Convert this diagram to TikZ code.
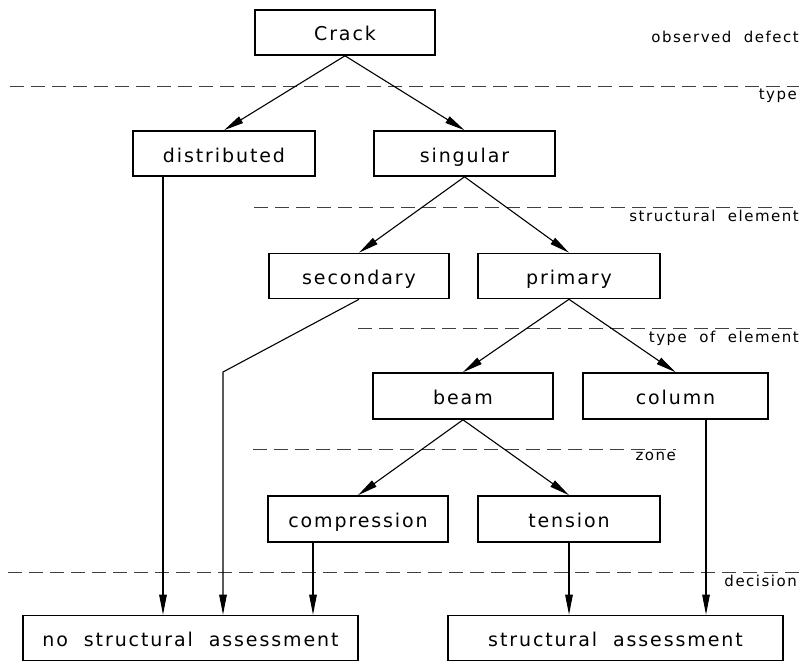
\documentclass[tikz,border=0pt]{standalone}
\usepackage{fontspec}
\setmainfont{DejaVu Sans}[LetterSpace=10,WordSpace=2]
\usetikzlibrary{arrows.meta}

\tikzset{
  box/.style={draw, line width=1.6pt, minimum height=45pt, inner sep=0pt,
              text height=17pt, text depth=0pt,
              font=\fontsize{19}{22}\selectfont},
  arr/.style={line width=1.1pt, -{Triangle[length=20pt,width=7.5pt]}},
  level/.style={draw=black!75, line width=0.9pt, dash pattern=on 14pt off 7pt},
  tag/.style={inner sep=0pt, font=\fontsize{15}{18}\selectfont}
}

\begin{document}
\begin{tikzpicture}[x=1pt,y=-1pt]
\useasboundingbox (0,0) rectangle (799,661);

% level separators
\draw[level] (10,86) -- (799,86);
\draw[level] (254,207) -- (799,207);
\draw[level] (358,328) -- (799,328);
\draw[level] (253,449) -- (676,449);
\draw[level] (8,572) -- (799,572);

% level labels
\node[tag, anchor=base east] (lobs) at (799,42) {observed defect};
\node[tag, anchor=north east] (ltype) at (797,89) {type};
\node[tag, anchor=north east] (lstruct) at (799,210) {structural element};
\node[tag, anchor=north east] (lelem) at (799,331) {type of element};
\node[tag, anchor=north east] (lzone) at (676,452) {zone};
\node[tag, anchor=north east] (ldec) at (797,575) {decision};

% boxes
\node[box, minimum width=180pt] (crack) at (345,32.5) {Crack};
\node[box, minimum width=182pt] (distributed) at (224,153.5) {distributed};
\node[box, minimum width=181pt] (singular) at (464.5,153.5) {singular};
\node[box, minimum width=180pt] (secondary) at (359,276) {secondary};
\node[box, minimum width=182pt] (primary) at (569,276) {primary};
\node[box, minimum width=180pt, minimum height=46pt] (beam) at (463,396) {beam};
\node[box, minimum width=185pt, minimum height=46pt] (column) at (675.5,396) {column};
\node[box, minimum width=180pt, minimum height=46pt] (compression) at (358,519) {compression};
\node[box, minimum width=182pt, minimum height=46pt] (tension) at (569,519) {tension};
\node[box, minimum width=335pt] (nsa) at (190.5,638) {no structural assessment};
\node[box, minimum width=335pt] (sa) at (615.5,638) {structural assessment};

% branching arrows
\draw[arr] (crack.south) -- (distributed.north);
\draw[arr] (crack.south) -- (singular.north);
\draw[arr] (singular.south) -- (secondary.north);
\draw[arr] (singular.south) -- (primary.north);
\draw[arr] (primary.south) -- (beam.north);
\draw[arr] (primary.south) -- (column.north);
\draw[arr] (beam.south) -- (compression.north);
\draw[arr] (beam.south) -- (tension.north);

% decision arrows
\coordinate (dfoot) at (163,176);
\coordinate (bend) at (223,372);
\draw[arr] (dfoot) -- (dfoot |- nsa.north);
\draw[arr] (secondary.south) -- (bend) -- (bend |- nsa.north);
\draw[arr] ([xshift=-45pt]compression.south) -- ([xshift=-45pt]compression.south |- nsa.north);
\draw[arr] (tension.south) -- (tension.south |- sa.north);
\draw[arr] ([xshift=30.5pt]column.south) -- ([xshift=30.5pt]column.south |- sa.north);
\end{tikzpicture}
\end{document}
